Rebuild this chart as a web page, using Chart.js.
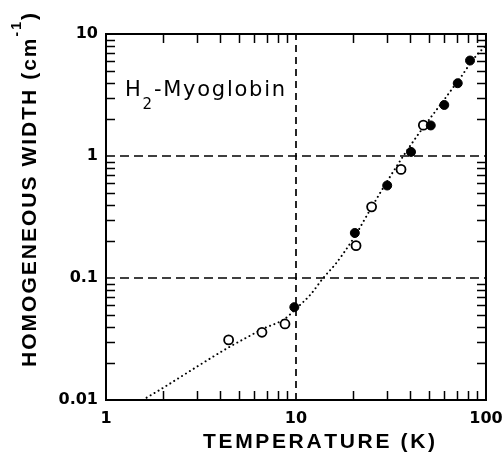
<!DOCTYPE html>
<html><head><meta charset="utf-8">
<script src="https://cdn.jsdelivr.net/npm/chart.js@4"></script>
<style>html,body{margin:0;padding:0;background:#fff}#wrap{width:503px;height:454px}</style>
</head><body><div id="wrap"><canvas id="c" width="503" height="454"></canvas></div>
<script>
// ---- data ----
const openT   = [4.42, 6.62, 8.75, 20.7, 25.0, 35.7, 46.8];
const openW   = [0.0311, 0.0359, 0.042, 0.184, 0.383, 0.776, 1.79];
const filledT = [9.8, 20.4, 30.2, 40.3, 51.2, 60.3, 71.0, 82.4];
const filledW = [0.0577, 0.234, 0.573, 1.08, 1.78, 2.62, 3.95, 6.06];
const fitT = [1.56, 2, 3, 4.42, 5.5, 6.62, 8.75, 10, 12, 13.9, 16, 17.7, 20.4, 24.5, 30, 36.7, 45, 55, 65, 75, 85, 100];
const fitW = [0.0100, 0.0126, 0.0187, 0.0270, 0.0325, 0.0380, 0.0464, 0.056, 0.074, 0.100, 0.128, 0.158, 0.22, 0.36, 0.61, 1.00, 1.58, 2.40, 3.40, 4.60, 6.10, 8.10];
const xTickLabels = ['1', '10', '100'];
const yTickLabels = ['0.01', '0.1', '1', '10'];
const gridT = [10];
const gridW = [0.1, 1];
const xTitle = 'TEMPERATURE (K)';
const yTitle = ['HOMOGENEOUS WIDTH (cm', '-1', ')'];
const sampleLabel = ['H', '2', '-Myoglobin'];
const labelAt = {x: 1.26, y: 3.41};

const toPts = (xs, ys) => xs.map((x, i) => ({x, y: ys[i]}));
const minorTicks = (labels) => {
  const out = [];
  labels.slice(0, -1).forEach(l => { const d = Number(l); for (let m = 2; m <= 9; m++) out.push(m * d); });
  return out;
};
const matchLabel = (labels, v) => labels.find(l => Math.abs(Number(l) - v) <= 1e-6 * v) || '';

const TICKFONT = {family: 'DejaVu Sans', size: 16, weight: 'bold'};

// draws text pieces char by char, spreading them to a target total width
function drawPieces(ctx, pieces, x, y, target) {
  let w = 0, n = 0;
  pieces.forEach(p => { ctx.font = p.font; for (const ch of p.t) { w += ctx.measureText(ch).width; n++; } });
  const ls = n > 1 ? Math.max(0, (target - w) / (n - 1)) : 0;
  let cx = x;
  pieces.forEach(p => {
    ctx.font = p.font;
    for (const ch of p.t) { ctx.fillText(ch, cx, y + p.dy); cx += ctx.measureText(ch).width + ls; }
  });
}

const framePlugin = {
  id: 'frame',
  beforeDatasetsDraw(chart) {
    const ctx = chart.ctx, a = chart.chartArea, xs = chart.scales.x, ys = chart.scales.y;
    ctx.save();
    ctx.strokeStyle = '#000';
    // dashed reference lines
    ctx.lineWidth = 1.7;
    ctx.setLineDash([7, 5]);
    gridT.forEach(v => { const px = Math.round(xs.getPixelForValue(v)); ctx.beginPath(); ctx.moveTo(px, a.bottom); ctx.lineTo(px, a.top); ctx.stroke(); });
    ctx.setLineDash([9, 5]);
    gridW.forEach(v => { const py = Math.round(ys.getPixelForValue(v)); ctx.beginPath(); ctx.moveTo(a.left, py); ctx.lineTo(a.right, py); ctx.stroke(); });
    ctx.setLineDash([]);
    // inward ticks
    ctx.lineWidth = 1.5;
    const L = 9;
    minorTicks(xTickLabels).forEach(v => {
      const px = Math.round(xs.getPixelForValue(v)) + 0.5;
      ctx.beginPath(); ctx.moveTo(px, a.bottom); ctx.lineTo(px, a.bottom - L);
      ctx.moveTo(px, a.top); ctx.lineTo(px, a.top + L); ctx.stroke();
    });
    minorTicks(yTickLabels).forEach(v => {
      const py = Math.round(ys.getPixelForValue(v)) + 0.5;
      ctx.beginPath(); ctx.moveTo(a.left, py); ctx.lineTo(a.left + L, py);
      ctx.moveTo(a.right, py); ctx.lineTo(a.right - L, py); ctx.stroke();
    });
    // frame
    ctx.lineWidth = 2;
    ctx.strokeRect(a.left, a.top, a.right - a.left, a.bottom - a.top);
    ctx.restore();
  },
  afterDraw(chart) {
    const ctx = chart.ctx, xs = chart.scales.x, ys = chart.scales.y;
    ctx.save();
    ctx.fillStyle = '#000';
    ctx.textAlign = 'left';
    ctx.textBaseline = 'middle';
    // sample label
    const lx = xs.getPixelForValue(labelAt.x), ly = ys.getPixelForValue(labelAt.y);
    drawPieces(ctx, [
      {t: sampleLabel[0], font: '21px "DejaVu Sans"', dy: 0},
      {t: sampleLabel[1], font: '15px "DejaVu Sans"', dy: 14},
      {t: sampleLabel[2], font: '21px "DejaVu Sans"', dy: 0}
    ], lx, ly, 160);
    // x title
    drawPieces(ctx, [{t: xTitle, font: 'bold 21px "Liberation Sans"', dy: 0}], 203, 442, 232);
    // y title
    ctx.translate(30, 367);
    ctx.rotate(-Math.PI / 2);
    drawPieces(ctx, [
      {t: yTitle[0], font: 'bold 21px "Liberation Sans"', dy: 0},
      {t: yTitle[1], font: 'bold 14px "Liberation Sans"', dy: -13},
      {t: yTitle[2], font: 'bold 21px "Liberation Sans"', dy: 0}
    ], 0, 0, 354);
    ctx.restore();
  }
};

new Chart(document.getElementById('c'), {
  type: 'scatter',
  data: {
    datasets: [
      {label: 'fit', data: toPts(fitT, fitW), showLine: true, borderColor: '#000', borderWidth: 2,
       borderDash: [0.01, 4.6], borderCapStyle: 'round', pointRadius: 0, cubicInterpolationMode: 'monotone', order: 3},
      {label: 'open', data: toPts(openT, openW), pointRadius: 4.5, pointBorderWidth: 1.8,
       pointBackgroundColor: '#fff', pointBorderColor: '#000', backgroundColor: '#fff', borderColor: '#000', order: 1},
      {label: 'filled', data: toPts(filledT, filledW), pointRadius: 4.5, pointBorderWidth: 1,
       pointBackgroundColor: '#000', pointBorderColor: '#000', backgroundColor: '#000', borderColor: '#000', order: 0}
    ]
  },
  options: {
    responsive: false, animation: false, devicePixelRatio: 1,
    layout: {padding: {left: 0, right: 17, top: 34, bottom: 0}},
    plugins: {legend: {display: false}, tooltip: {enabled: false}},
    scales: {
      x: {
        type: 'logarithmic', min: 1, max: 100, position: 'bottom',
        grid: {display: false, drawTicks: false, tickLength: 0}, border: {display: false},
        afterBuildTicks: s => { s.ticks = xTickLabels.map(l => ({value: Number(l)})); },
        ticks: {autoSkip: false, maxRotation: 0, padding: 9, color: '#000', font: TICKFONT,
                callback: v => matchLabel(xTickLabels, v)},
        afterFit: s => { s.height = 54; s.paddingLeft = 0; s.paddingRight = 0; }
      },
      y: {
        type: 'logarithmic', min: 0.01, max: 10, position: 'left',
        grid: {display: false, drawTicks: false, tickLength: 0}, border: {display: false},
        afterBuildTicks: s => { s.ticks = yTickLabels.map(l => ({value: Number(l)})); },
        ticks: {autoSkip: false, padding: 8, color: '#000', font: TICKFONT,
                callback: v => matchLabel(yTickLabels, v)},
        afterFit: s => { s.width = 106; s.paddingTop = 0; s.paddingBottom = 0; }
      }
    }
  },
  plugins: [framePlugin]
});
</script></body></html>
